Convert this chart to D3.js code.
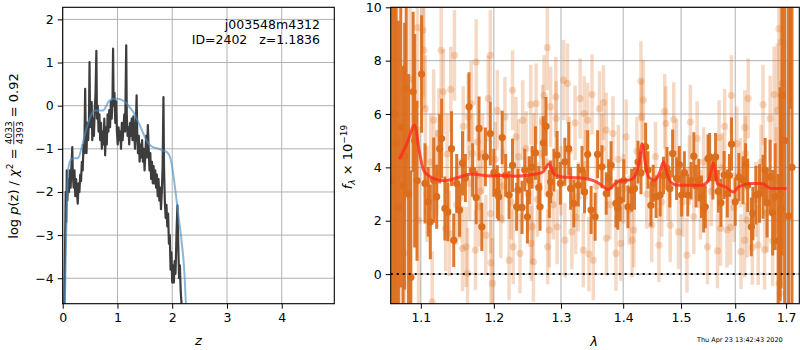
<!doctype html>
<html lang="en">
<head>
<meta charset="utf-8">
<title>redshift fit</title>
<script src="https://d3js.org/d3.v7.min.js"></script>
<style>
  body { margin: 0; background: #fff; }
  svg text { font-family: "DejaVu Sans", sans-serif; fill: #000; white-space: pre; }
  .tick text { font-size: 12.5px; }
  .tick line { stroke: #000; }
  .grid line { stroke: #b0b0b0; stroke-width: 1; }
</style>
</head>
<body>
<div id="chart"></div>
<script>
// ---- left panel: log p(z) ----
var zTicks = [0, 1, 2, 3, 4];
var lnpTicks = [-4, -3, -2, -1, 0, 1, 2];
var objName = "j003548m4312";
var objInfo = "ID=2402   z=1.1836";

// [z, log p(z)]
var pzCurve = [
  [0.03,-4.59],[0.045,-3.1],[0.055,-2.0],[0.065,-2.7],[0.075,-1.5],[0.085,-2.2],[0.10,-1.7],[0.115,-2.0],
  [0.13,-1.5],[0.145,-1.9],[0.16,-1.4],[0.175,-0.96],[0.185,-1.6],[0.20,-1.9],[0.215,-1.5],[0.23,-2.1],
  [0.245,-1.7],[0.26,-2.0],[0.275,-2.27],[0.29,-1.8],[0.305,-2.0],[0.32,-1.6],[0.335,-1.75],[0.35,-1.3],
  [0.365,-1.5],[0.38,-0.9],[0.395,-1.1],[0.41,0.39],[0.42,-0.6],[0.435,-1.1],[0.45,-0.4],[0.465,-0.8],
  [0.48,-0.3],[0.49,1.01],[0.50,-0.5],[0.515,-0.1],[0.53,0.08],[0.54,-0.8],[0.555,-0.3],[0.57,-0.7],
  [0.585,-0.1],[0.60,0.3],[0.615,1.27],[0.625,-0.3],[0.64,0.0],[0.655,-0.6],[0.67,-0.2],[0.685,-0.8],
  [0.70,-0.4],[0.715,-1.0],[0.73,-0.6],[0.745,-0.9],[0.76,-0.3],[0.775,-1.15],[0.79,-0.5],[0.805,-0.9],
  [0.82,-0.2],[0.835,-0.6],[0.85,-0.1],[0.865,-0.5],[0.88,0.1],[0.895,-0.3],[0.91,0.2],[0.92,1.32],
  [0.93,0.0],[0.945,0.3],[0.96,-0.4],[0.975,0.1],[0.99,-0.6],[1.005,-0.9],[1.02,-0.5],[1.035,-0.8],
  [1.05,-0.6],[1.065,-1.0],[1.08,-0.4],[1.095,-0.8],[1.11,-0.5],[1.125,-0.2],[1.14,-0.6],[1.16,1.40],
  [1.17,-0.2],[1.185,-0.7],[1.20,-0.5],[1.215,-0.9],[1.23,-0.4],[1.245,-0.7],[1.26,-0.3],[1.275,-0.8],
  [1.29,-0.25],[1.305,-0.6],[1.32,-1.0],[1.335,-0.5],[1.35,0.24],[1.36,-0.6],[1.375,-1.1],[1.39,-0.7],
  [1.405,-1.3],[1.42,-0.9],[1.435,-1.2],[1.45,-0.8],[1.465,-1.3],[1.48,-1.0],[1.495,-1.5],[1.51,-1.1],
  [1.525,-0.7],[1.54,-1.2],[1.555,-0.45],[1.57,-1.0],[1.585,-1.5],[1.60,-1.1],[1.615,-1.7],[1.63,-1.3],
  [1.645,-1.8],[1.66,-1.4],[1.675,-1.8],[1.69,-1.5],[1.705,-1.9],[1.72,-1.6],[1.735,-2.1],[1.75,-1.7],
  [1.765,-2.2],[1.78,-1.9],[1.795,-2.4],[1.81,-2.0],[1.825,-1.4],[1.84,0.2],[1.85,-1.4],[1.865,-2.2],
  [1.88,-2.6],[1.895,-2.3],[1.91,-2.8],[1.925,-2.5],[1.94,-3.2],[1.955,-3.0],[1.97,-3.8],[1.985,-3.4],
  [2.00,-4.1],[2.015,-3.7],[2.03,-4.1],[2.045,-3.6],[2.06,-3.9],[2.08,-2.9],[2.095,-2.31],[2.11,-3.2],
  [2.125,-4.0],[2.14,-3.7],[2.155,-4.3],[2.17,-4.59]
];

// smoothed prior-weighted curve [z, log p]
var pzSmooth = [
  [0.04,-4.59],[0.055,-3.6],[0.07,-2.6],[0.085,-1.9],[0.10,-1.5],[0.13,-1.3],[0.17,-1.23],[0.22,-1.22],
  [0.28,-1.22],[0.33,-1.05],[0.37,-0.85],[0.41,-0.65],[0.46,-0.42],[0.50,-0.27],[0.55,-0.15],[0.59,-0.11],
  [0.66,-0.11],[0.74,-0.11],[0.79,-0.02],[0.83,0.08],[0.88,0.14],[0.92,0.16],[1.01,0.16],[1.10,0.12],
  [1.17,0.05],[1.23,-0.05],[1.29,-0.15],[1.35,-0.3],[1.41,-0.46],[1.47,-0.64],[1.53,-0.8],[1.59,-0.91],
  [1.65,-0.96],[1.75,-1.0],[1.84,-1.04],[1.93,-1.11],[1.99,-1.35],[2.05,-1.89],[2.11,-2.5],[2.17,-3.13],
  [2.22,-3.82],[2.25,-4.59]
];

// ---- right panel: spectrum ----
var waveTicks = [1.1, 1.2, 1.3, 1.4, 1.5, 1.6, 1.7];
var fluxTicks = [0, 2, 4, 6, 8, 10];
var stamp = "Thu Apr 23 13:42:43 2020";

// [lambda, flux, err]  (primary spectrum)
var darkSpec = [
  [1.063,3.5,9],[1.066,6.0,8],[1.068,4.9,6.5],[1.071,2.5,7],[1.074,5.5,6],[1.077,3.31,4.5],[1.079,4.42,5],
  [1.081,6.95,4],[1.084,3.0,4.5],[1.087,-0.12,4],[1.090,6.83,3],[1.092,5.0,4],[1.095,3.5,3],[1.101,7.5,2.2],
  [1.1055,3.4,1.5],[1.1097,2.71,1.3],[1.1125,1.96,1.4],[1.117,3.52,1.6],[1.121,2.9,1.2],[1.125,4.7,1.3],
  [1.1276,5.08,1.5],[1.132,2.46,1.2],[1.136,2.33,1.1],[1.141,4.7,1.4],[1.144,1.27,1.0],[1.148,3.4,1.1],
  [1.152,2.4,1.0],[1.156,4.15,1.2],[1.160,3.6,0.9],[1.165,6.27,1.3],[1.170,3.9,1.0],[1.175,2.87,1.0],
  [1.179,5.46,1.2],[1.183,1.77,0.9],[1.188,4.39,1.1],[1.195,5.27,1.2],[1.200,3.8,0.9],[1.205,3.08,1.0],
  [1.207,2.9,0.9],[1.212,5.12,1.0],[1.217,3.7,0.8],[1.222,2.96,0.9],[1.227,4.08,1.0],[1.233,2.52,0.9],
  [1.235,3.15,0.8],[1.241,2.5,1.0],[1.245,3.9,0.8],[1.249,2.15,1.0],[1.252,3.52,0.9],[1.256,4.0,0.8],
  [1.261,4.54,1.0],[1.266,3.25,0.8],[1.268,2.52,0.9],[1.273,4.92,1.0],[1.277,5.54,1.1],[1.282,3.0,0.9],
  [1.284,3.46,0.8],[1.289,3.9,0.8],[1.294,4.46,0.9],[1.299,3.4,0.8],[1.306,4.21,0.9],[1.312,4.7,1.0],
  [1.315,3.21,0.8],[1.320,2.65,0.9],[1.327,3.33,0.8],[1.333,3.9,0.9],[1.337,3.08,0.8],[1.342,4.49,0.9],
  [1.3475,2.4,0.9],[1.354,2.15,0.9],[1.358,4.49,0.9],[1.365,4.02,0.8],[1.372,3.02,0.8],[1.376,3.6,0.7],
  [1.380,4.08,0.9],[1.388,2.65,0.9],[1.391,2.46,0.8],[1.395,2.77,0.8],[1.401,3.5,0.8],[1.408,2.52,0.8],
  [1.414,3.15,0.8],[1.419,3.21,0.8],[1.425,4.2,0.8],[1.430,3.79,0.8],[1.438,4.77,0.9],[1.442,3.9,0.7],
  [1.447,2.58,0.8],[1.451,3.4,0.7],[1.456,2.9,0.8],[1.463,2.96,0.8],[1.469,3.7,0.7],[1.475,3.96,0.8],
  [1.480,3.2,0.7],[1.485,4.52,0.9],[1.492,3.58,0.8],[1.497,4.1,0.7],[1.501,2.96,0.8],[1.506,3.8,0.8],
  [1.512,2.96,0.8],[1.518,3.5,0.7],[1.523,4.42,0.9],[1.527,3.3,0.8],[1.532,3.52,0.8],[1.537,2.9,0.8],
  [1.541,2.46,0.9],[1.544,2.52,0.8],[1.549,4.33,0.9],[1.552,4.39,0.9],[1.558,3.6,0.8],[1.563,4.39,0.9],
  [1.568,3.1,0.8],[1.573,2.67,0.9],[1.579,3.71,0.9],[1.585,3.02,0.9],[1.589,3.7,0.8],[1.593,4.87,1.0],
  [1.600,2.71,0.9],[1.607,3.64,0.9],[1.615,3.52,0.9],[1.620,4.1,0.8],[1.624,3.33,1.0],[1.631,1.77,1.1],
  [1.634,2.27,1.0],[1.640,2.96,1.1],[1.647,3.02,1.1],[1.654,3.27,1.2],[1.658,3.9,1.2],[1.662,2.67,1.3],
  [1.668,3.64,1.4],[1.673,2.3,1.6],[1.678,2.9,2.0],[1.684,1.25,2.5],[1.688,3.0,4],[1.690,2.46,3],
  [1.692,6.7,6],[1.697,5.0,8],[1.705,2.17,12],[1.709,13,6.8],[1.712,4,12]
];

// [lambda, flux, err]  (second spectrum, faint)
var lightSpec = [
  [1.064,4.0,9],[1.069,6.5,7],[1.073,0.21,5],[1.079,0.8,5],[1.086,7.3,4],[1.0955,9.24,3],[1.097,2.02,3.5],
  [1.1028,9.14,2.5],[1.104,8.39,2.2],[1.106,6.2,2],[1.108,3.0,1.8],[1.113,4.2,1.8],[1.115,-1.04,1.9],
  [1.117,5.77,1.9],[1.121,3.8,1.6],[1.124,5.27,1.7],[1.127,8.39,1.8],[1.130,6.83,1.6],[1.133,1.71,1.6],
  [1.135,4.5,1.5],[1.138,1.52,1.6],[1.140,6.92,1.6],[1.145,8.2,1.7],[1.148,2.6,1.5],[1.152,2.83,1.5],
  [1.156,0.96,1.6],[1.157,5.54,1.5],[1.161,1.02,1.5],[1.163,0.03,1.7],[1.164,5.89,1.6],[1.166,3.4,1.4],
  [1.168,6.39,1.6],[1.170,4.52,1.5],[1.174,0.9,1.5],[1.175,7.95,1.6],[1.177,4.96,1.4],[1.179,2.52,1.5],
  [1.181,3.1,1.4],[1.184,4.52,1.5],[1.1886,1.46,1.5],[1.192,6.58,1.6],[1.195,8.2,1.7],[1.1955,2.27,1.5],
  [1.196,0.42,1.6],[1.198,-0.35,1.7],[1.202,4.3,1.4],[1.205,6.14,1.5],[1.210,2.09,1.5],[1.213,3.3,1.4],
  [1.216,5.89,1.5],[1.222,0.52,1.5],[1.225,2.7,1.4],[1.227,6.89,1.5],[1.228,1.02,1.4],[1.232,5.14,1.5],
  [1.236,4.4,1.4],[1.238,0.78,1.5],[1.242,5.77,1.5],[1.247,4.7,1.4],[1.250,3.0,1.4],[1.254,6.35,1.5],
  [1.2545,1.15,1.4],[1.256,1.77,1.4],[1.258,0.46,1.5],[1.2585,4.64,1.4],[1.262,6.39,1.5],[1.264,2.8,1.4],
  [1.269,4.52,1.4],[1.272,5.7,1.4],[1.274,6.7,1.5],[1.277,4.2,1.3],[1.279,8.49,1.6],[1.2795,1.02,1.4],
  [1.282,1.65,1.4],[1.284,6.27,1.5],[1.288,2.6,1.3],[1.292,6.64,1.5],[1.2925,5.83,1.4],[1.294,1.77,1.4],
  [1.300,3.5,1.3],[1.304,7.27,1.5],[1.306,1.27,1.4],[1.310,7.14,1.5],[1.313,4.6,1.3],[1.317,1.58,1.4],
  [1.322,5.67,1.4],[1.323,2.15,1.4],[1.327,2.9,1.3],[1.330,6.58,1.5],[1.335,0.9,1.4],[1.3365,6.02,1.4],
  [1.339,4.1,1.3],[1.342,5.77,1.4],[1.344,0.75,1.4],[1.349,6.73,1.5],[1.351,0.52,1.5],[1.356,3.3,1.3],
  [1.361,6.2,1.4],[1.365,4.7,1.3],[1.3675,6.43,1.4],[1.372,5.4,1.4],[1.3725,1.34,1.4],[1.378,2.6,1.3],
  [1.383,5.27,1.4],[1.388,0.78,1.4],[1.392,4.3,1.3],[1.396,1.15,1.4],[1.401,3.2,1.3],[1.405,5.14,1.4],
  [1.410,2.4,1.3],[1.415,1.27,1.4],[1.418,1.65,1.4],[1.423,4.6,1.3],[1.430,7.23,1.5],[1.431,5.89,1.4],
  [1.434,6.52,1.5],[1.440,3.0,1.3],[1.4485,1.84,1.4],[1.455,4.4,1.3],[1.461,1.09,1.4],[1.466,2.7,1.3],
  [1.471,6.1,1.4],[1.473,5.64,1.4],[1.477,3.3,1.3],[1.4807,1.84,1.4],[1.487,5.79,1.4],[1.492,4.5,1.3],
  [1.4955,1.58,1.4],[1.503,2.7,1.3],[1.5105,0.71,1.4],[1.515,3.9,1.3],[1.5167,5.7,1.4],[1.523,2.15,1.4],
  [1.529,5.08,1.4],[1.535,2.6,1.3],[1.541,4.2,1.3],[1.548,1.02,1.4],[1.555,3.1,1.3],[1.5665,0.87,1.4],
  [1.5695,5.12,1.4],[1.5722,1.71,1.4],[1.576,4.0,1.3],[1.580,5.54,1.4],[1.5845,1.65,1.4],[1.591,1.75,1.4],
  [1.5926,6.7,1.5],[1.598,2.5,1.3],[1.603,4.89,1.4],[1.610,3.8,1.3],[1.611,0.84,1.4],[1.618,1.27,1.4],
  [1.6185,5.49,1.4],[1.6196,4.52,1.4],[1.623,2.02,1.4],[1.625,6.58,1.5],[1.633,1.0,1.4],[1.640,2.8,1.4],
  [1.6445,1.09,1.5],[1.650,4.2,1.4],[1.654,6.35,1.5],[1.657,0.92,1.5],[1.662,2.3,1.5],[1.668,5.83,1.6],
  [1.673,1.25,1.7],[1.676,6.73,1.8],[1.680,3.5,2],[1.6825,6.14,2.5],[1.6855,9.2,3],[1.686,-0.35,3],
  [1.688,-0.72,3.5],[1.690,8.7,4],[1.692,7.14,5]
];

// [lambda, flux]  best-fit template
var modelSpec = [
  [1.072,4.3],[1.082,4.9],[1.092,5.58],[1.098,4.6],[1.1036,3.9],[1.110,3.7],[1.117,3.58],[1.131,3.5],
  [1.150,3.62],[1.168,3.75],[1.195,3.68],[1.210,3.7],[1.232,3.67],[1.262,3.75],[1.272,3.83],[1.282,4.14],
  [1.289,3.75],[1.3016,3.64],[1.329,3.61],[1.356,3.46],[1.369,3.25],[1.375,3.17],[1.391,3.46],[1.414,3.55],
  [1.422,3.77],[1.427,4.2],[1.432,4.89],[1.437,4.2],[1.443,3.64],[1.454,3.52],[1.462,3.8],[1.469,4.21],
  [1.475,3.8],[1.481,3.46],[1.495,3.33],[1.538,3.33],[1.550,3.52],[1.555,3.9],[1.559,4.17],[1.563,3.8],
  [1.566,3.4],[1.581,3.27],[1.597,3.08],[1.606,3.27],[1.631,3.4],[1.651,3.4],[1.670,3.21],[1.701,3.21]
];

var orange = "#db6d1b";

var svg = d3.select("#chart").append("svg")
    .attr("width", 800).attr("height", 350);
svg.append("rect").attr("width", 800).attr("height", 350).attr("fill", "#fff");

var yTop = 7.3, yBot = 303.7;

// put a sequence of text pieces side by side (used for the math labels)
function mathText(g, parts) {
  var x = 0;
  parts.forEach(function(p) {
    var t = g.append("text")
      .attr("x", x).attr("y", p.y || 0)
      .style("font-size", (p.size || 13) + "px")
      .style("font-style", p.italic ? "italic" : "normal")
      .text(p.t);
    p.w = t.node().getComputedTextLength();
    p.x = x;
    if (!p.stay) x += p.w;
  });
  return x;
}

// ================= left panel =================
var lx = d3.scaleLinear().domain([0, 4.96]).range([62.7, 334.3]);
var ly = d3.scaleLinear().domain([-4.59, 2.28]).range([yBot, yTop]);

var left = svg.append("g");
left.append("clipPath").attr("id", "clipL")
  .append("rect").attr("x", 62.7).attr("y", yTop).attr("width", 334.3 - 62.7).attr("height", yBot - yTop);

var gridL = left.append("g").attr("class", "grid");
gridL.selectAll(".gx").data(zTicks).join("line").attr("class", "gx")
  .attr("x1", d => lx(d)).attr("x2", d => lx(d)).attr("y1", yTop).attr("y2", yBot);
gridL.selectAll(".gy").data(lnpTicks).join("line").attr("class", "gy")
  .attr("x1", 62.7).attr("x2", 334.3).attr("y1", d => ly(d)).attr("y2", d => ly(d));

var plotL = left.append("g").attr("clip-path", "url(#clipL)");
plotL.append("path").datum(pzCurve)
  .attr("fill", "none").attr("stroke", "#3d3d3d").attr("stroke-width", 2.2)
  .attr("stroke-linejoin", "round")
  .attr("d", d3.line().x(d => lx(d[0])).y(d => ly(d[1])));
plotL.append("path").datum(pzSmooth)
  .attr("fill", "none").attr("stroke", "#4a90c8").attr("stroke-opacity", 0.65).attr("stroke-width", 2)
  .attr("d", d3.line().curve(d3.curveMonotoneX).x(d => lx(d[0])).y(d => ly(d[1])));

left.append("g").attr("transform", "translate(0," + yBot + ")")
  .call(d3.axisBottom(lx).tickValues(zTicks).tickSize(5).tickPadding(4).tickSizeOuter(0).tickFormat(d3.format("d")))
  .call(g => g.select(".domain").remove());
left.append("g").attr("transform", "translate(62.7,0)")
  .call(d3.axisLeft(ly).tickValues(lnpTicks).tickSize(5).tickPadding(4).tickSizeOuter(0).tickFormat(d3.format("d")))
  .call(g => g.select(".domain").remove());
left.append("rect").attr("x", 62.7).attr("y", yTop).attr("width", 334.3 - 62.7).attr("height", yBot - yTop)
  .attr("fill", "none").attr("stroke", "#000").attr("stroke-width", 1.1);

left.append("text").attr("x", 320).attr("y", 29).attr("text-anchor", "end")
  .style("font-size", "12.5px").text(objName);
left.append("text").attr("x", 320).attr("y", 44).attr("text-anchor", "end")
  .style("font-size", "12.5px").text(objInfo);

left.append("text").attr("x", lx(2.48)).attr("y", 345).attr("text-anchor", "middle")
  .style("font-size", "13px").style("font-style", "italic").text("z");

var ylab = left.append("g");
var yparts = [
  {t: "log "}, {t: "p", italic: true}, {t: "(z) / "}, {t: "\u03c7", italic: true},
  {t: "2", size: 9, y: -5}, {t: " = "},
  {t: "4033", size: 9, y: -6.3, stay: true}, {t: "4393", size: 9, y: 4.6},
  {t: " = 0.92"}
];
var wy = mathText(ylab, yparts);
ylab.append("line").attr("x1", yparts[6].x).attr("x2", yparts[6].x + yparts[6].w)
  .attr("y1", -4.2).attr("y2", -4.2).attr("stroke", "#000").attr("stroke-width", 0.8);
ylab.attr("transform", "translate(18,156) rotate(-90) translate(" + (-wy / 2) + ",0)");

// ================= right panel =================
var rx = d3.scaleLog().domain([1.0612, 1.727]).range([390.7, 799.3]);
var ry = d3.scaleLinear().domain([-1.11, 10]).range([yBot, yTop]);

var right = svg.append("g");
right.append("clipPath").attr("id", "clipR")
  .append("rect").attr("x", 390.7).attr("y", yTop).attr("width", 799.3 - 390.7).attr("height", yBot - yTop);

var gridR = right.append("g").attr("class", "grid");
gridR.selectAll(".gx").data(waveTicks).join("line").attr("class", "gx")
  .attr("x1", d => rx(d)).attr("x2", d => rx(d)).attr("y1", yTop).attr("y2", yBot);
gridR.selectAll(".gy").data(fluxTicks).join("line").attr("class", "gy")
  .attr("x1", 390.7).attr("x2", 799.3).attr("y1", d => ry(d)).attr("y2", d => ry(d));

var plotR = right.append("g").attr("clip-path", "url(#clipR)");

// faint spectrum
plotR.append("g").selectAll("line").data(lightSpec).join("line")
  .attr("x1", d => rx(d[0])).attr("x2", d => rx(d[0]))
  .attr("y1", d => ry(d[1] - d[2])).attr("y2", d => ry(d[1] + d[2]))
  .attr("stroke", orange).attr("stroke-opacity", 0.26).attr("stroke-width", 3.5);
plotR.append("g").selectAll("circle").data(lightSpec).join("circle")
  .attr("cx", d => rx(d[0])).attr("cy", d => ry(d[1])).attr("r", 3.6)
  .attr("fill", orange).attr("fill-opacity", 0.26);

// primary spectrum
plotR.append("g").selectAll("line").data(darkSpec).join("line")
  .attr("x1", d => rx(d[0])).attr("x2", d => rx(d[0]))
  .attr("y1", d => ry(d[1] - d[2])).attr("y2", d => ry(d[1] + d[2]))
  .attr("stroke", orange).attr("stroke-opacity", 0.92).attr("stroke-width", 3);
plotR.append("g").selectAll("circle").data(darkSpec).join("circle")
  .attr("cx", d => rx(d[0])).attr("cy", d => ry(d[1])).attr("r", 3.6)
  .attr("fill", orange);

// model
plotR.append("path").datum(modelSpec)
  .attr("fill", "none").attr("stroke", "#ff2a1a").attr("stroke-opacity", 0.8).attr("stroke-width", 3)
  .attr("stroke-linejoin", "round")
  .attr("d", d3.line().curve(d3.curveMonotoneX).x(d => rx(d[0])).y(d => ry(d[1])));

// zero line
plotR.append("line").attr("x1", 390.7).attr("x2", 799.3).attr("y1", ry(0)).attr("y2", ry(0))
  .attr("stroke", "#000").attr("stroke-width", 2).attr("stroke-dasharray", "2,4");

right.append("g").attr("transform", "translate(0," + yBot + ")")
  .call(d3.axisBottom(rx).tickValues(waveTicks).tickSize(5).tickPadding(4).tickSizeOuter(0).tickFormat(d3.format(".1f")))
  .call(g => g.select(".domain").remove());
right.append("g").attr("transform", "translate(390.7,0)")
  .call(d3.axisLeft(ry).tickValues(fluxTicks).tickSize(5).tickPadding(4).tickSizeOuter(0).tickFormat(d3.format("d")))
  .call(g => g.select(".domain").remove());
right.append("rect").attr("x", 390.7).attr("y", yTop).attr("width", 799.3 - 390.7).attr("height", yBot - yTop)
  .attr("fill", "none").attr("stroke", "#000").attr("stroke-width", 1.1);

right.append("text").attr("x", 594).attr("y", 346).attr("text-anchor", "middle")
  .style("font-size", "13px").style("font-style", "italic").text("\u03bb");

var flab = right.append("g");
var fparts = [
  {t: "f", italic: true}, {t: "\u03bb", size: 9, y: 3, italic: true},
  {t: " \u00d7 10"}, {t: "\u221219", size: 9, y: -5.5}
];
var wf = mathText(flab, fparts);
flab.attr("transform", "translate(352,157) rotate(-90) translate(" + (-wf / 2) + ",0)");

svg.append("text").attr("x", 697).attr("y", 341.5)
  .style("font-size", "6.5px").text(stamp);
</script>
</body>
</html>
